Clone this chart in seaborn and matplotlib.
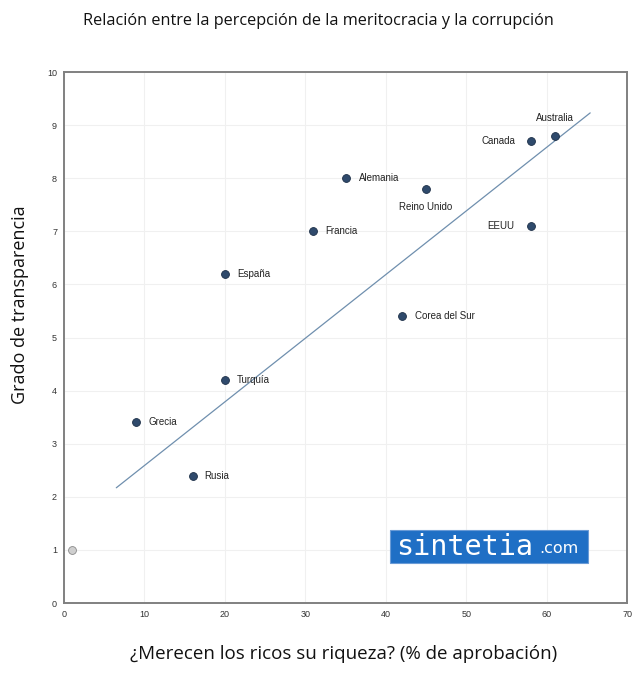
import matplotlib
matplotlib.use("Agg")
import matplotlib.pyplot as plt
from matplotlib.patches import Rectangle
import seaborn as sns
import pandas as pd

# ---- data ----
countries = ["Grecia", "Rusia", "Turquía", "España", "Francia", "Alemania",
             "Reino Unido", "Corea del Sur", "EEUU", "Canada", "Australia"]
aprobacion = [9, 16, 20, 20, 31, 35, 45, 42, 58, 58, 61]
transparencia = [3.4, 2.4, 4.2, 6.2, 7.0, 8.0, 7.8, 5.4, 7.1, 8.7, 8.8]
ref_x = [1]
ref_y = [1]
trend_x = [6.5, 65.4]
trend_y = [2.17, 9.23]
x_ticks = [0, 10, 20, 30, 40, 50, 60, 70]
y_ticks = [0, 1, 2, 3, 4, 5, 6, 7, 8, 9, 10]

df = pd.DataFrame({"pais": countries, "x": aprobacion, "y": transparencia})

sns.set_theme(style="white")
plt.rcParams["font.family"] = ["Liberation Sans", "DejaVu Sans"]

fig = plt.figure(figsize=(6.4, 6.78), dpi=100)
ax = fig.add_axes([0.1, 0.1106, 0.88, 0.7832])

ax.grid(True, color="#f0f0f0", linewidth=0.8)
ax.set_axisbelow(True)

sns.lineplot(x=trend_x, y=trend_y, ax=ax, color="#6f8fae", linewidth=0.9)
sns.scatterplot(data=df, x="x", y="y", ax=ax, color="#2f4a6c", s=32,
                edgecolor="#1c2f47", linewidth=0.6, zorder=3)
sns.scatterplot(x=ref_x, y=ref_y, ax=ax, color="#cfcfcf", s=32,
                edgecolor="#8a8a8a", linewidth=0.6, zorder=3)

# label placements (offsets in pixels, alignment)
placement = {
    "Grecia": (12, 0, "left", "center"),
    "Rusia": (12, 0, "left", "center"),
    "Turquía": (12, 0, "left", "center"),
    "España": (12, 0, "left", "center"),
    "Francia": (12, 0, "left", "center"),
    "Alemania": (13, 0, "left", "center"),
    "Reino Unido": (0, -18, "center", "center"),
    "Corea del Sur": (13, 0, "left", "center"),
    "EEUU": (-16, 0, "right", "center"),
    "Canada": (-15, 0, "right", "center"),
    "Australia": (0, 18, "center", "center"),
}
for name, xv, yv in zip(countries, aprobacion, transparencia):
    dx, dy, ha, va = placement[name]
    ax.annotate(name, (xv, yv), xytext=(dx, dy), textcoords="offset pixels",
                ha=ha, va=va, fontsize=7, color="#222222")

ax.set_xlim(0, 70)
ax.set_ylim(0, 10)
ax.set_xticks(x_ticks)
ax.set_yticks(y_ticks)
ax.tick_params(axis="both", labelsize=6.5, colors="#333333", length=0, pad=5)
for sp in ax.spines.values():
    sp.set_color("#808080")
    sp.set_linewidth(1.4)

ax.set_xlabel("¿Merecen los ricos su riqueza? (% de aprobación)", fontsize=13.5,
              color="#111111", family=["Open Sans", "DejaVu Sans"])
ax.xaxis.set_label_coords(0.497, -0.079)
ax.set_ylabel("Grado de transparencia", fontsize=13, color="#111111",
              family=["Open Sans", "DejaVu Sans"])
ax.yaxis.set_label_coords(-0.063, 0.561)
fig.text(0.497, 0.969, "Relación entre la percepción de la meritocracia y la corrupción",
         ha="center", va="center", fontsize=11.7, color="#111111",
         family=["Open Sans", "DejaVu Sans"])

# watermark
ax.add_patch(Rectangle((0.579, 0.0753), 0.352, 0.0622, transform=ax.transAxes,
                       facecolor="#1f6fc5", edgecolor="#6a9bd6", linewidth=0.8, zorder=4))
ax.text(0.590, 0.106, "sintetia", transform=ax.transAxes,
        fontsize=20.5, color="white", family="DejaVu Sans Mono",
        ha="left", va="center", zorder=5)
ax.text(0.843, 0.102, ".com", transform=ax.transAxes, fontsize=11.5, color="white",
        family="DejaVu Sans", ha="left", va="center", zorder=5)

fig.savefig("out.png", dpi=100)
